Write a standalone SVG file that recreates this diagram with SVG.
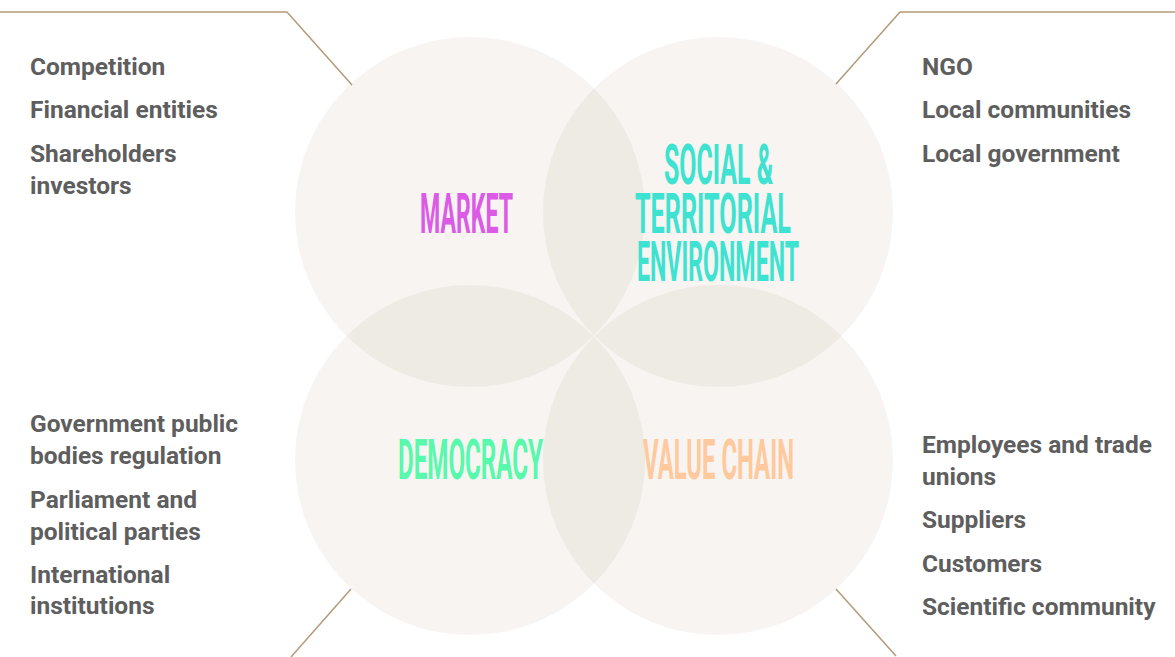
<svg xmlns="http://www.w3.org/2000/svg" width="1175" height="657" viewBox="0 0 1175 657">
<style>
.c{fill:#f7f4f1}
.lens{fill:#eeeae4}
.ln{fill:none;stroke:#b49a78;stroke-width:1.5}
.t{font-family:Roboto,"Liberation Sans",sans-serif;font-weight:700;font-size:24.5px;fill:#5e5e5e}
.h{font-family:Roboto,"Liberation Sans",sans-serif;font-weight:700;font-size:24px}
</style>
<rect width="1175" height="657" fill="#ffffff"/>
<g id="circles">
<circle class="c" cx="470" cy="212" r="175"/>
<circle class="c" cx="718" cy="212" r="175"/>
<circle class="c" cx="470" cy="460" r="175"/>
<circle class="c" cx="718" cy="460" r="175"/>
<path class="lens" d="M594,88.5 A175,175 0 0,1 594,335.5 A175,175 0 0,1 594,88.5Z"/>
<path class="lens" d="M594,336.5 A175,175 0 0,1 594,583.5 A175,175 0 0,1 594,336.5Z"/>
<path class="lens" d="M346.5,336 A175,175 0 0,1 593.5,336 A175,175 0 0,1 346.5,336Z"/>
<path class="lens" d="M594.5,336 A175,175 0 0,1 841.5,336 A175,175 0 0,1 594.5,336Z"/>
</g>
<g id="connectors">
<polyline class="ln" points="0,12 287,12 352,85"/>
<polyline class="ln" points="836,84 900,12 1175,12"/>
<line class="ln" x1="351" y1="589" x2="291" y2="657"/>
<line class="ln" x1="836" y1="589" x2="896" y2="656"/>
</g>
<g id="market">
<text class="h" transform="translate(420,233) scale(1,2.3)" textLength="93" lengthAdjust="spacingAndGlyphs" fill="#db5ae6">MARKET</text>
</g>
<g id="social">
<text class="h" transform="translate(664,184) scale(1,2.3)" textLength="109" lengthAdjust="spacingAndGlyphs" fill="#3de3d0">SOCIAL &amp;</text>
<text class="h" transform="translate(635,233) scale(1,2.3)" textLength="156" lengthAdjust="spacingAndGlyphs" fill="#3de3d0">TERRITORIAL</text>
<text class="h" transform="translate(637,281) scale(1,2.3)" textLength="162" lengthAdjust="spacingAndGlyphs" fill="#3de3d0">ENVIRONMENT</text>
</g>
<g id="democracy">
<text class="h" transform="translate(398,479) scale(1,2.3)" textLength="145" lengthAdjust="spacingAndGlyphs" fill="#58f9ad">DEMOCRACY</text>
</g>
<g id="valuechain">
<text class="h" transform="translate(643,479) scale(1,2.3)" textLength="151" lengthAdjust="spacingAndGlyphs" fill="#ffc99e">VALUE CHAIN</text>
</g>
<g id="market-list">
<text class="t" x="30" y="75">Competition</text>
<text class="t" x="30" y="118">Financial entities</text>
<text class="t" x="30" y="162">Shareholders</text>
<text class="t" x="30" y="194">investors</text>
</g>
<g id="social-list">
<text class="t" x="922" y="75">NGO</text>
<text class="t" x="922" y="118">Local communities</text>
<text class="t" x="922" y="162">Local government</text>
</g>
<g id="democracy-list">
<text class="t" x="30" y="432">Government public</text>
<text class="t" x="30" y="464">bodies regulation</text>
<text class="t" x="30" y="508">Parliament and</text>
<text class="t" x="30" y="540">political parties</text>
<text class="t" x="30" y="583">International</text>
<text class="t" x="30" y="614">institutions</text>
</g>
<g id="valuechain-list">
<text class="t" x="922" y="453">Employees and trade</text>
<text class="t" x="922" y="485">unions</text>
<text class="t" x="922" y="528">Suppliers</text>
<text class="t" x="922" y="572">Customers</text>
<text class="t" x="922" y="615">Scientific community</text>
</g>
</svg>
